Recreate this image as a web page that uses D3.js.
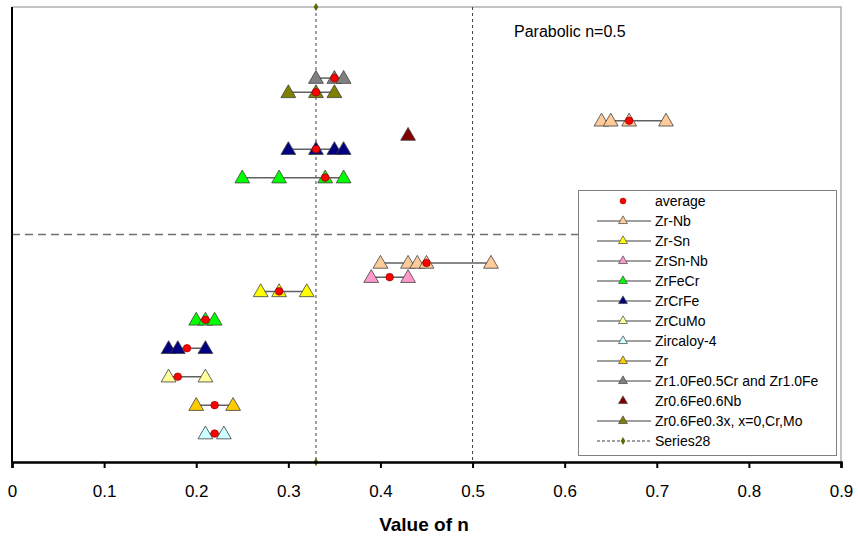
<!DOCTYPE html>
<html>
<head>
<meta charset="utf-8">
<script src="https://cdn.jsdelivr.net/npm/d3@7"></script>
<style>
  body { margin: 0; background: #fff; }
  text { font-family: "Liberation Sans", Arial, sans-serif; }
</style>
</head>
<body>
<div id="chart"></div>
<script>
// each row: [y position, values of n]
var zrNb = [[12, [0.64, 0.65, 0.67, 0.71]], [7, [0.40, 0.43, 0.44, 0.45, 0.52]]];
var zrSn = [[6, [0.27, 0.29, 0.32]]];
var zrSnNb = [[6.5, [0.39, 0.43]]];
var zrFeCr = [[10, [0.25, 0.29, 0.34, 0.36]], [5, [0.20, 0.21, 0.22]]];
var zrCrFe = [[11, [0.30, 0.33, 0.35, 0.36]], [4, [0.17, 0.18, 0.21]]];
var zrCuMo = [[3, [0.17, 0.21]]];
var zircaloy4 = [[1, [0.21, 0.23]]];
var zr = [[2, [0.20, 0.24]]];
var zrFeCrFe = [[13.5, [0.33, 0.35, 0.36]]];
var zr06Fe06Nb = [[11.5, [0.43]]];
var zr06Fe03x = [[13, [0.30, 0.33, 0.35]]];

// average points [n, y]
var averages = [[0.35, 13.5], [0.33, 13], [0.67, 12], [0.33, 11], [0.34, 10],
                [0.45, 7], [0.41, 6.5], [0.29, 6], [0.21, 5], [0.19, 4],
                [0.18, 3], [0.22, 2], [0.22, 1]];

var series28 = [[0.33, 16], [0.33, 0]];

var seriesNames = ["Zr-Nb", "Zr-Sn", "ZrSn-Nb", "ZrFeCr", "ZrCrFe", "ZrCuMo", "Zircaloy-4", "Zr",
                   "Zr1.0Fe0.5Cr and Zr1.0Fe", "Zr0.6Fe0.6Nb", "Zr0.6Fe0.3x, x=0,Cr,Mo"];
var seriesRows = [zrNb, zrSn, zrSnNb, zrFeCr, zrCrFe, zrCuMo, zircaloy4, zr, zrFeCrFe, zr06Fe06Nb, zr06Fe03x];
var seriesColors = ["#ffcc99", "#ffff00", "#ff99cc", "#00ff00", "#000080", "#ffff99", "#ccffff", "#ffcc00",
                    "#808080", "#800000", "#808000"];
var seriesLine = [true, true, true, true, true, true, true, true, true, false, true];

var xTicks = [0, 0.1, 0.2, 0.3, 0.4, 0.5, 0.6, 0.7, 0.8, 0.9];

var width = 858, height = 538;
var pLeft = 12, pRight = 841, pTop = 7, pBottom = 462;

var x = d3.scaleLinear().domain([0, 0.9]).range([pLeft, pRight]);
var y = d3.scaleLinear().domain([0, 16]).range([pBottom, pTop]);

var svg = d3.select("#chart").append("svg")
    .attr("width", width)
    .attr("height", height);

// plot frame (top and right, light grey)
svg.append("path")
    .attr("d", "M" + pLeft + "," + pTop + "H" + pRight + "V" + pBottom)
    .style("fill", "none")
    .style("stroke", "#b0b0b0")
    .style("stroke-width", 1.5);

// n = 0.5 reference line
svg.append("line")
    .attr("x1", x(0.5)).attr("x2", x(0.5))
    .attr("y1", pTop).attr("y2", pBottom)
    .style("stroke", "#404040")
    .style("stroke-width", 1)
    .style("stroke-dasharray", "3,3");

// Series28 dotted line
svg.append("path")
    .attr("d", d3.line().x(function (d) { return x(d[0]); }).y(function (d) { return y(d[1]); })(series28))
    .style("stroke", "#404040")
    .style("stroke-width", 1)
    .style("stroke-dasharray", "3,3");

svg.selectAll(".s28")
    .data(series28)
    .enter()
    .append("path")
    .attr("class", "s28")
    .attr("transform", function (d) { return "translate(" + x(d[0]) + "," + y(d[1]) + ")"; })
    .attr("d", d3.symbol().type(d3.symbolDiamond).size(18))
    .style("fill", "#556b00");

// horizontal dashed divider
svg.append("line")
    .attr("x1", pLeft).attr("x2", 578)
    .attr("y1", y(8)).attr("y2", y(8))
    .style("stroke", "#707070")
    .style("stroke-width", 1.5)
    .style("stroke-dasharray", "8,5");

var tri = d3.symbol().type(d3.symbolTriangle).size(95);

seriesRows.forEach(function (rows, i) {
    var g = svg.append("g");
    rows.forEach(function (r) {
        var vals = r[1];
        if (seriesLine[i] && vals.length > 1) {
            g.append("line")
                .attr("x1", x(d3.min(vals))).attr("x2", x(d3.max(vals)))
                .attr("y1", y(r[0])).attr("y2", y(r[0]))
                .style("stroke", "#606060")
                .style("stroke-width", 1.5);
        }
        g.selectAll(null)
            .data(vals)
            .enter()
            .append("path")
            .attr("transform", function (d) { return "translate(" + x(d) + "," + (y(r[0]) + 1) + ")"; })
            .attr("d", tri)
            .style("fill", seriesColors[i])
            .style("stroke", "#404040")
            .style("stroke-width", 0.8);
    });
});

svg.selectAll(".avg")
    .data(averages)
    .enter()
    .append("circle")
    .attr("class", "avg")
    .attr("cx", function (d) { return x(d[0]); })
    .attr("cy", function (d) { return y(d[1]); })
    .attr("r", 3.8)
    .style("fill", "#ff0000")
    .style("stroke", "#800000")
    .style("stroke-width", 0.6);

// left axis line
svg.append("line")
    .attr("x1", pLeft).attr("x2", pLeft)
    .attr("y1", pTop).attr("y2", pBottom + 1)
    .style("stroke", "#000")
    .style("stroke-width", 2);

// bottom axis
var xAxis = svg.append("g")
    .attr("transform", "translate(0," + pBottom + ")")
    .call(d3.axisBottom(x).tickValues(xTicks).tickSize(6).tickPadding(17)
        .tickFormat(function (d) { return d === 0 ? "0" : d3.format(".1f")(d); }));
xAxis.select(".domain").style("stroke", "#000").style("stroke-width", 2.5);
xAxis.selectAll(".tick line").style("stroke", "#000").style("stroke-width", 2);
xAxis.selectAll(".tick text")
    .style("font-size", "17px")
    .style("font-family", "'Liberation Sans', Arial, sans-serif")
    .style("fill", "#000");

svg.append("text")
    .attr("x", 424)
    .attr("y", 531)
    .attr("text-anchor", "middle")
    .style("font-size", "19px")
    .style("font-weight", "bold")
    .text("Value of n");

svg.append("text")
    .attr("x", 514)
    .attr("y", 37)
    .style("font-size", "16px")
    .style("fill", "#000")
    .text("Parabolic n=0.5");

// legend
var lg = svg.append("g");
lg.append("rect")
    .attr("x", 578.5).attr("y", 190.5)
    .attr("width", 258).attr("height", 265)
    .style("fill", "#fff")
    .style("stroke", "#808080")
    .style("stroke-width", 1);

var legendItems = [{name: "average", type: "avg"}];
seriesNames.forEach(function (n, i) {
    legendItems.push({name: n, type: "tri", color: seriesColors[i], line: seriesLine[i]});
});
legendItems.push({name: "Series28", type: "s28"});

var item = lg.selectAll(".li")
    .data(legendItems)
    .enter()
    .append("g")
    .attr("class", "li")
    .attr("transform", function (d, i) { return "translate(0," + (201 + i * 20) + ")"; });

item.filter(function (d) { return d.type === "tri" && d.line; })
    .append("line")
    .attr("x1", 597).attr("x2", 651)
    .style("stroke", "#404040")
    .style("stroke-width", 1.2);

item.filter(function (d) { return d.type === "s28"; })
    .append("line")
    .attr("x1", 597).attr("x2", 651)
    .style("stroke", "#404040")
    .style("stroke-width", 1)
    .style("stroke-dasharray", "3,2");

item.filter(function (d) { return d.type === "s28"; })
    .append("path")
    .attr("transform", "translate(623,0)")
    .attr("d", d3.symbol().type(d3.symbolDiamond).size(18))
    .style("fill", "#556b00");

item.filter(function (d) { return d.type === "tri"; })
    .append("path")
    .attr("transform", "translate(623,0)")
    .attr("d", d3.symbol().type(d3.symbolTriangle).size(34))
    .style("fill", function (d) { return d.color; })
    .style("stroke", "#404040")
    .style("stroke-width", 0.7);

item.filter(function (d) { return d.type === "avg"; })
    .append("circle")
    .attr("cx", 623).attr("r", 3)
    .style("fill", "#ff0000")
    .style("stroke", "#800000")
    .style("stroke-width", 0.5);

item.append("text")
    .attr("x", 655)
    .attr("y", 5)
    .style("font-size", "14px")
    .style("fill", "#000")
    .text(function (d) { return d.name; });
</script>
</body>
</html>
